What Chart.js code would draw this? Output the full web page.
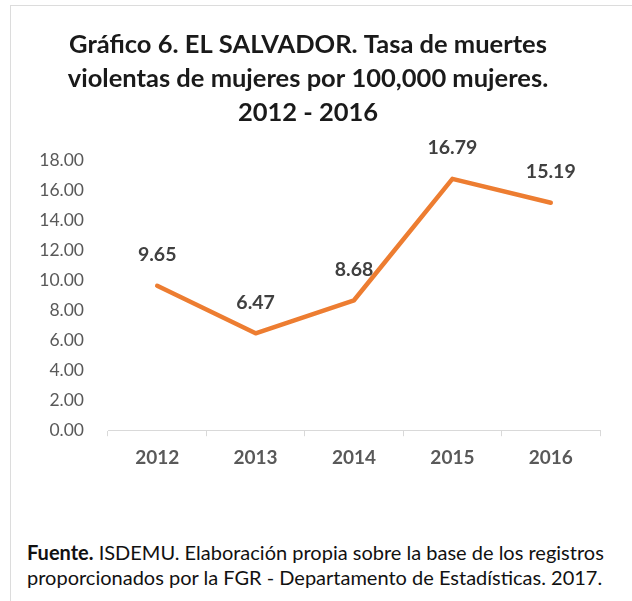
<!DOCTYPE html>
<html>
<head>
<meta charset="utf-8">
<script src="https://cdn.jsdelivr.net/npm/chart.js@4"></script>
<style>
  body { margin: 0; background: #fff; }
  #frame { position: absolute; left: 10px; top: 5px; width: 700px; height: 700px; border: 1px solid #dcdcdc; }
  #wrap { position: absolute; left: 0; top: 0; width: 632px; height: 479px; }
  #fuente { position: absolute; left: 27px; top: 540px; font-family: Lato, sans-serif; font-size: 20px; line-height: 25px; color: #111; white-space: nowrap; }
</style>
</head>
<body>
<div id="frame"></div>
<div id="wrap"><canvas id="chart"></canvas></div>
<div id="fuente"><b>Fuente.</b> ISDEMU. Elaboración propia sobre la base de los registros<br>proporcionados por la FGR - Departamento de Estadísticas. 2017.</div>
<script>
const years = ['2012', '2013', '2014', '2015', '2016']
const tasa = [9.65, 6.47, 8.68, 16.79, 15.19]
const titleLines = ['Gráfico 6. EL SALVADOR. Tasa de muertes', 'violentas de mujeres por 100,000 mujeres.', '2012 - 2016']

// value labels above each point
const valueLabels = {
	id: 'valueLabels',
	afterDatasetsDraw(chart) {
		const ctx = chart.ctx
		const meta = chart.getDatasetMeta(0)
		ctx.save()
		ctx.font = 'bold 19.5px Lato'
		ctx.fillStyle = '#404040'
		ctx.textAlign = 'center'
		ctx.textBaseline = 'middle'
		meta.data.forEach((pt, i) => {
			ctx.fillText(tasa[i].toFixed(2), pt.x, pt.y - 31)
		})
		ctx.restore()
	}
}

const chart = new Chart(document.getElementById('chart'), {
	type: 'line',
	data: {
		labels: years,
		datasets: [{
			data: tasa,
			borderColor: '#ED7D31',
			borderWidth: 4.5,
			borderCapStyle: 'round',
			borderJoinStyle: 'round',
			pointRadius: 0,
			tension: 0
		}]
	},
	options: {
		responsive: true,
		maintainAspectRatio: false,
		animation: false,
		layout: { padding: { top: 28, left: 16, right: 32, bottom: 0 } },
		plugins: {
			legend: { display: false },
			tooltip: { enabled: false },
			title: {
				display: true,
				text: titleLines,
				color: '#1a1a1a',
				font: { family: 'Lato', size: 25.5, weight: 'bold', lineHeight: 1.33 },
				padding: { top: 0, bottom: 31 }
			}
		},
		scales: {
			x: {
				offset: true,
				grid: { display: true, offset: true, drawOnChartArea: false, drawTicks: true, tickLength: 6, color: '#d9d9d9' },
				border: { display: true, color: '#d9d9d9', width: 1 },
				ticks: { color: '#595959', font: { family: 'Lato', size: 19, weight: 'bold' }, padding: 10 }
			},
			y: {
				min: 0,
				max: 18,
				afterFit: s => { s.width = 92 },
				grid: { display: false },
				border: { display: false },
				ticks: {
					stepSize: 2,
					color: '#595959',
					padding: 16,
					font: { family: 'Lato', size: 17.5 },
					callback: v => v.toFixed(2)
				}
			}
		}
	},
	plugins: [valueLabels]
})
</script>
</body>
</html>
